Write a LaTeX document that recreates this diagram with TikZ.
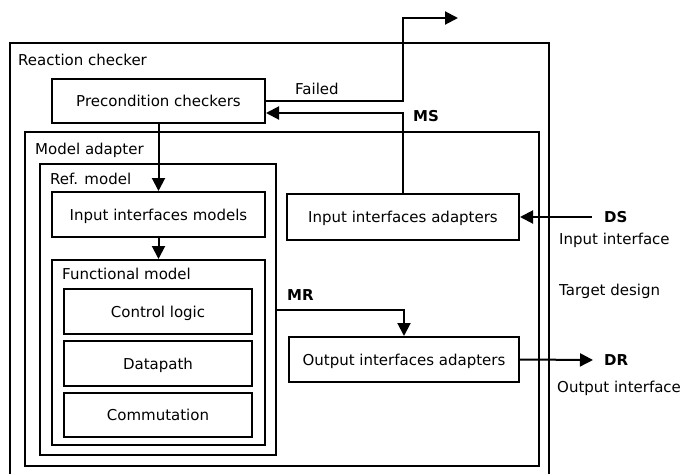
\documentclass[tikz,border=0pt]{standalone}
\usepackage{fontspec}
\setmainfont{DejaVu Sans}
\usetikzlibrary{arrows.meta}
\begin{document}
\begin{tikzpicture}[x=1pt,y=-1pt,
  every node/.style={font=\fontsize{15}{18}\selectfont, text height=11pt, text depth=0pt},
  box/.style={draw, line width=2pt, inner sep=0pt},
  lbl/.style={anchor=west, inner sep=0pt},
  sig/.style={lbl, font=\fontsize{15}{18}\selectfont\bfseries},
  wire/.style={line width=2pt},
  flow/.style={wire, -{Triangle[length=13pt,width=13pt]}}]
\useasboundingbox (0,0) rectangle (683,474);

% reaction checker frame (open at the bottom)
\draw[wire] (10,474) |- (549,43) -- (549,474);
\node[lbl] (rcl) at (18,60) {Reaction checker};

\node[box, minimum width=213pt, minimum height=44pt] (pre) at (158.5,101) {Precondition checkers};

% model adapter and its contents
\node[box, minimum width=514pt, minimum height=334pt] (ma) at (282,299) {};
\node[lbl] (mal) at (35,149) {Model adapter};

\node[box, minimum width=236pt, minimum height=291pt] (ref) at (158,309.5) {};
\node[lbl] (refl) at (50,179) {Ref. model};

\node[box, minimum width=213pt, minimum height=45pt] (iim) at (158.5,214.5) {Input interfaces models};

\node[box, minimum width=213pt, minimum height=185pt] (fm) at (158.5,352.5) {};
\node[lbl] (fml) at (62,274) {Functional model};

\node[box, minimum width=188pt, minimum height=45pt] (cl) at (158,311.5) {Control logic};
\node[box, minimum width=188pt, minimum height=45pt] (dp) at (158,363.5) {Datapath};
\node[box, minimum width=188pt, minimum height=44pt] (cm) at (158,415) {Commutation};

\node[box, minimum width=232pt, minimum height=46pt] (iia) at (403,217) {Input interfaces adapters};
\node[box, minimum width=230pt, minimum height=45pt] (oia) at (404,359.5) {Output interfaces adapters};

% free ends of the external connections
\coordinate (fail) at (458,18);
\coordinate (ds) at (592,217);
\coordinate (dr) at (593,360);

% connectors
\draw[flow] (pre.south) -- (iim.north);
\draw[flow] (iim.south) -- (fm.north);
\draw[flow] (pre.east) -| (iia.north |- fail) -- (fail);
\draw[flow] (iia.north) |- ([yshift=-12pt]pre.east);
\draw[flow] (ref.east |- 0,310) -| (oia.north);
\draw[flow] (ds) -- (iia.east);
\draw[flow] (oia.east) -- (dr);

% labels
\node[lbl] (failedl) at (295,89) {Failed};
\node[sig] (msl) at (413,116) {MS};
\node[sig] (mrl) at (287,295) {MR};
\node[sig] (dsl) at (604,217) {DS};
\node[lbl] (iil) at (559,239) {Input interface};
\node[lbl] (tdl) at (559,290) {Target design};
\node[sig] (drl) at (604,360) {DR};
\node[lbl] (oil) at (557,387) {Output interface};
\end{tikzpicture}
\end{document}
